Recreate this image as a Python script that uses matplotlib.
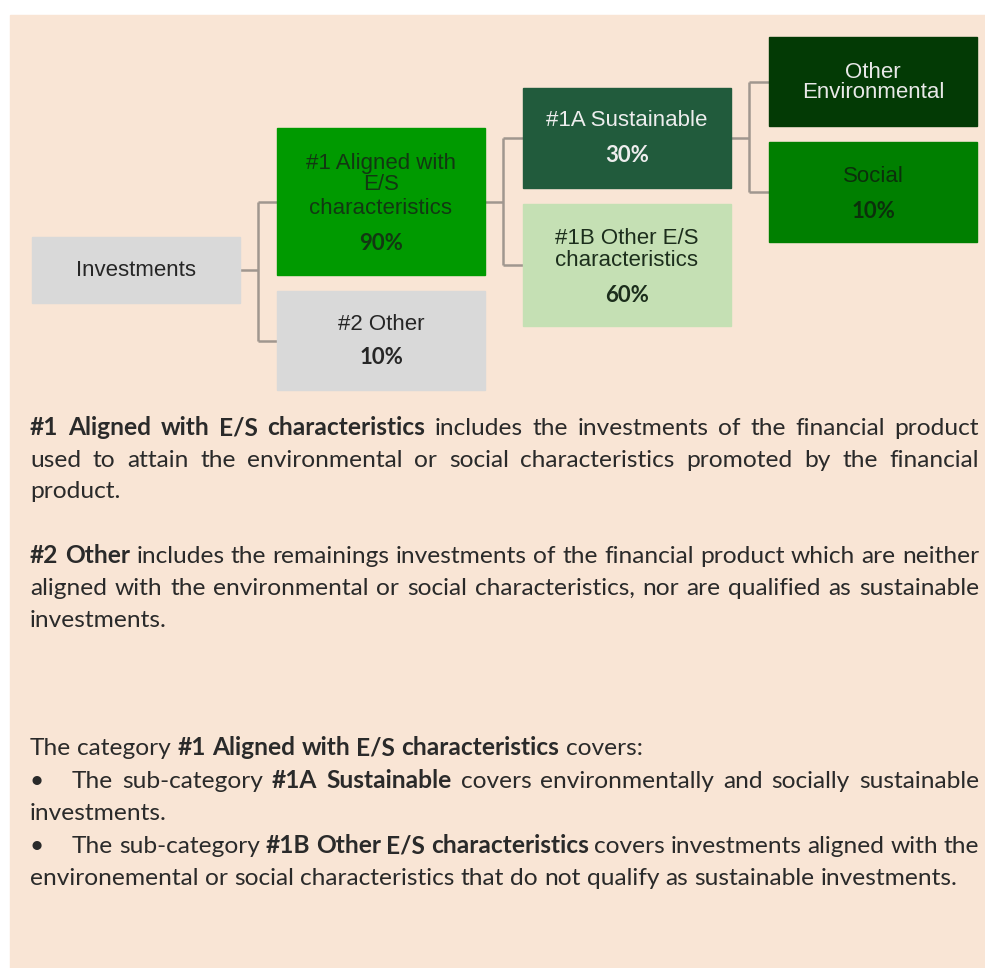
import matplotlib
matplotlib.use("Agg")
import matplotlib.pyplot as plt
from matplotlib.patches import Rectangle

# ---- data ----
node_labels = ["Investments",
               "#1 Aligned with\nE/S\ncharacteristics",
               "#2 Other",
               "#1A Sustainable",
               "#1B Other E/S\ncharacteristics",
               "Other\nEnvironmental",
               "Social"]
node_shares = [None, 90, 10, 30, 60, None, 10]
node_parent = [None, 0, 0, 1, 1, 3, 3]

notes = [
    [("#1 Aligned with E/S characteristics", True),
     ("includes the investments of the financial product", False)],
    [("used to attain the environmental or social characteristics promoted by the financial", False)],
    [("product.", False)],
    [("#2 Other", True),
     ("includes the remainings investments of the financial product which are neither", False)],
    [("aligned with the environmental or social characteristics, nor are qualified as sustainable", False)],
    [("investments.", False)],
    [("The category", False), ("#1 Aligned with E/S characteristics", True), ("covers:", False)],
    [("The sub-category", False), ("#1A Sustainable", True),
     ("covers environmentally and socially sustainable", False)],
    [("investments.", False)],
    [("The sub-category", False), ("#1B Other E/S characteristics", True),
     ("covers investments aligned with the", False)],
    [("environemental or social characteristics that do not qualify as sustainable investments.", False)],
]
# justified? / bullet?
note_justify = [True, True, False, True, True, False, False, True, False, True, False]
note_bullet = [False, False, False, False, False, False, False, True, False, True, False]

# ---- layout (pixels, y going down) ----
W, H = 985, 968
BG = "#F9E5D5"
box_xy = [(32, 237, 240, 303), (277, 128, 485, 275), (277, 291, 485, 390),
          (523, 88, 731, 188), (523, 204, 731, 326),
          (769, 37, 977, 126), (769, 142, 977, 242)]
box_color = ["#D9D9D9", "#009A00", "#D9D9D9", "#215B3C", "#C5E0B4", "#033A05", "#007F00"]
label_color = ["#262626", "#123812", "#262626", "#EDEDED", "#1C2E1C", "#E8E8E8", "#0B300B"]
label_y = [[270], [162, 184, 207], [323], [120], [237, 259], [71, 92], [175]]
share_y = [None, 243, 357, 156, 295, None, 211]
note_base = [435, 467, 498, 563, 595, 627, 755, 788, 820, 853, 885]
X0, X1, XB = 30, 979, 72
BOX_FONT = "Liberation Sans"
BODY_FONT = "Lato"

fig = plt.figure(figsize=(W / 100, H / 100), dpi=100)
ax = fig.add_axes([0, 0, 1, 1])
ax.set_xlim(0, W)
ax.set_ylim(H, 0)
ax.axis("off")
ax.add_patch(Rectangle((10, 15), W - 10, H - 15, color=BG, zorder=0))

# boxes
for i, lab in enumerate(node_labels):
    x0, y0, x1, y1 = box_xy[i]
    ax.add_patch(Rectangle((x0, y0), x1 - x0, y1 - y0, color=box_color[i], zorder=2))
    cx = (x0 + x1) / 2
    for line, ly in zip(lab.split("\n"), label_y[i]):
        ax.text(cx, ly + 1, line, ha="center", va="center", fontsize=16,
                family=BOX_FONT, color=label_color[i], zorder=3)
    if node_shares[i] is not None:
        ax.text(cx, share_y[i], f"{node_shares[i]}%", ha="center", va="center",
                fontsize=16, family=BODY_FONT, fontweight="bold",
                color=label_color[i], zorder=3)

# elbow connectors parent -> children
for p in set(q for q in node_parent if q is not None):
    kids = [k for k, q in enumerate(node_parent) if q == p]
    px1 = box_xy[p][2]
    py = (box_xy[p][1] + box_xy[p][3]) / 2
    xm = px1 + 18
    ky = [(box_xy[k][1] + box_xy[k][3]) / 2 for k in kids]
    kw = dict(color="#A0978F", lw=1.8, zorder=1, solid_capstyle="butt")
    ax.plot([px1, xm], [py, py], **kw)
    ax.plot([xm, xm], [min(ky), max(ky)], **kw)
    for k, y in zip(kids, ky):
        ax.plot([xm, box_xy[k][0]], [y, y], **kw)

# ---- justified notes ----
renderer = fig.canvas.get_renderer()


def width(s, size, bold):
    t = ax.text(0, 0, s, fontsize=size, family=BODY_FONT,
                fontweight="bold" if bold else "normal")
    w = t.get_window_extent(renderer).width
    t.remove()
    return w


# size so the last line spans its measured width
ref = " ".join(r[0] for r in notes[-1])
size = 10 * 928 / width(ref, 10, False)
space = width("a a", size, False) - width("aa", size, False)

for runs, just, bul, yb in zip(notes, note_justify, note_bullet, note_base):
    words = [(w, b) for txt, b in runs for w in txt.split()]
    ws = [width(w, size, b) for w, b in words]
    start = XB if bul else X0
    gap = space
    if just and len(words) > 1:
        gap = (X1 - start - sum(ws)) / (len(words) - 1)
    if bul:
        ax.text(X0, yb, "\u2022", fontsize=size, family=BODY_FONT,
                color="#2A2A2A", va="baseline")
    x = start
    for (w, b), wd in zip(words, ws):
        ax.text(x, yb, w, fontsize=size, family=BODY_FONT, va="baseline",
                fontweight="bold" if b else "normal", color="#2A2A2A")
        x += wd + gap

fig.savefig("out.png", dpi=100, facecolor="white")
